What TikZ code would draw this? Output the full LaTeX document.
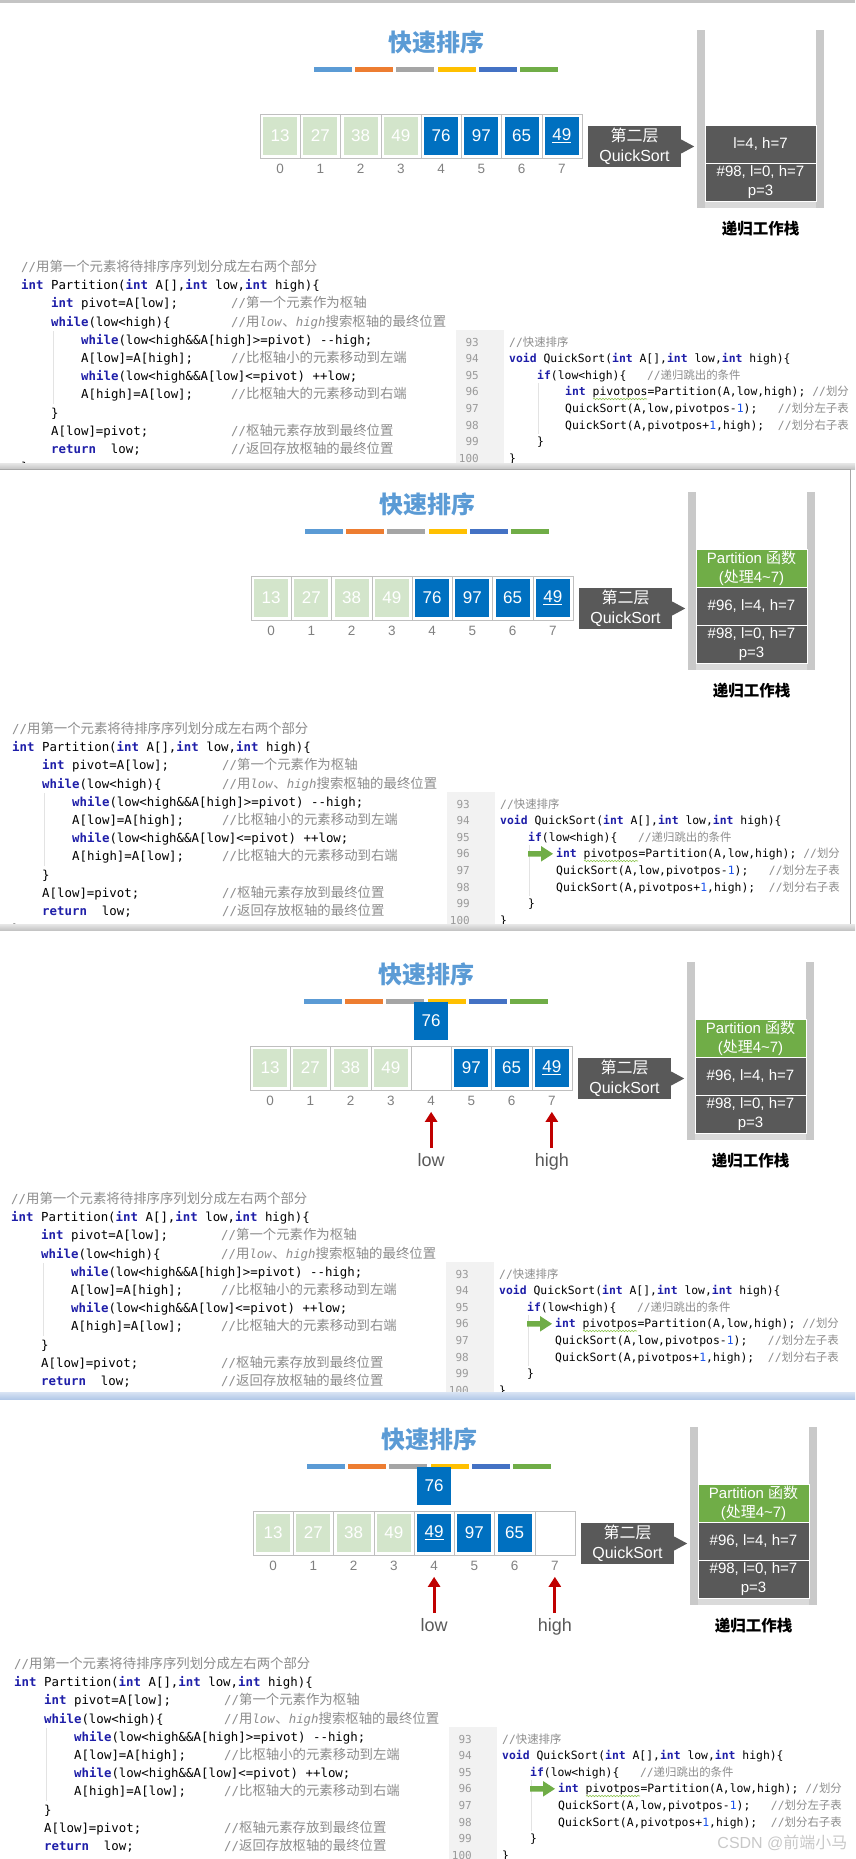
\documentclass[tikz,border=0pt]{standalone}
\usepackage{fontspec}
\setmainfont{Liberation Sans}
\newfontfamily\cjk{Noto Sans CJK SC}
\newfontfamily\cjkcode[Scale=1.08]{Noto Sans CJK SC}
\newfontfamily\mono{DejaVu Sans Mono}
\usetikzlibrary{positioning,arrows.meta,decorations.pathmorphing}

\definecolor{titleblue}{HTML}{5B9BD5}
\definecolor{bar1}{HTML}{5B9BD5}
\definecolor{bar2}{HTML}{ED7D31}
\definecolor{bar3}{HTML}{A5A5A5}
\definecolor{bar4}{HTML}{FFC000}
\definecolor{bar5}{HTML}{4472C4}
\definecolor{bar6}{HTML}{70AD47}
\definecolor{cellgreen}{HTML}{D3E5CB}
\definecolor{cellblue}{HTML}{0070C0}
\definecolor{framegray}{HTML}{BFBFBF}
\definecolor{idxgray}{HTML}{808080}
\definecolor{lblgray}{HTML}{595959}
\definecolor{barsgray}{HTML}{C9C9C9}
\definecolor{stripgray}{HTML}{DADADA}
\definecolor{partgreen}{HTML}{70AD47}
\definecolor{redarrow}{HTML}{C00000}
\definecolor{ptrtext}{HTML}{595959}
\definecolor{kwblue}{HTML}{1E1EA8}
\definecolor{cmtgray}{HTML}{8C8C8C}
\definecolor{numblue}{HTML}{1750EB}
\definecolor{lngray}{HTML}{9A9A9A}
\definecolor{gutter}{HTML}{F2F2F2}
\definecolor{guide}{HTML}{E3E3E3}
\definecolor{wavy}{HTML}{8BC34A}
\definecolor{sepgray}{HTML}{C4C4C4}
\definecolor{bordergray}{HTML}{A8A8A8}
\definecolor{sepblue}{HTML}{B3C9E8}
\definecolor{wmgray}{HTML}{C8C8C8}

\newcommand\kw[1]{\textcolor{kwblue}{\bfseries #1}}
\newcommand\zh[1]{{\cjkcode #1}}
\newcommand\zr[1]{{\cjk #1}}

\tikzset{
  heading/.style={text=titleblue, font=\cjk\bfseries\fontsize{24}{28}\selectfont},
  cellframe/.style={draw=framegray, minimum width=40.25pt, minimum height=44pt, inner sep=0pt},
  greencell/.style={fill=cellgreen, text=white, minimum width=34pt, minimum height=38pt, inner sep=0pt, font=\fontsize{17}{20}\selectfont},
  bluecell/.style={greencell, fill=cellblue},
  idx/.style={text=idxgray, inner sep=1pt, font=\fontsize{13.5}{16}\selectfont},
  lblbox/.style={fill=lblgray, text=white, align=center, minimum width=93pt, minimum height=41pt, inner sep=0pt, font=\fontsize{16}{20}\selectfont},
  stackbox/.style={fill=lblgray, draw=white, line width=1pt, text=white, align=center, minimum width=111pt, minimum height=38pt, inner sep=0pt, font=\fontsize{15}{19}\selectfont},
  partbox/.style={stackbox, fill=partgreen},
  stacklbl/.style={font=\cjk\bfseries\fontsize{15.5}{18}\selectfont},
  ptrlbl/.style={anchor=base, inner sep=2pt, text=ptrtext, font=\fontsize{18}{20}\selectfont},
  ptr/.style={draw=redarrow, line width=3pt, -{Triangle[width=12pt,length=10pt]}, shorten <=3pt, shorten >=5pt},
  codeline/.style={anchor=base west, inner sep=0pt, font=\mono\fontsize{12.4}{15}\selectfont},
  cmt/.style={codeline, text=cmtgray},
  rcode/.style={anchor=base west, inner sep=0pt, font=\mono\fontsize{11.4}{14}\selectfont},
  rcmt/.style={rcode, text=cmtgray},
  lnum/.style={anchor=base east, inner sep=0pt, text=lngray, font=\mono\fontsize{11}{13}\selectfont},
  wavyline/.style={draw=wavy, line width=0.6pt, decorate, decoration={snake, amplitude=0.7pt, segment length=3pt}}
}

\newcommand\quickpanel[2]{%
  \node (#1head) [heading] at (436,42) {快速排序};
  \foreach \c [count=\k from 0] in {bar1,bar2,bar3,bar4,bar5,bar6}
    \fill[\c] ({314+41.2*\k},67) rectangle +(38,5);
  \foreach \i in {0,...,7} {
    \node (#1f\i) [cellframe] at ({280.1+40.25*\i},136) {};
    \node (#1i\i) [idx] at ({280.1+40.25*\i},169) {\i};
  }
  \foreach \i/\v/\s in {#2}
    \node (#1v\i) [\s] at (#1f\i) {\v};
  \node (#1lbl) [lblbox] at (634.5,146.5) {{\cjk 第二层}\\QuickSort};
  \fill[lblgray] ([yshift=7pt]#1lbl.east) -- ++(13,7) -- ([yshift=-7pt]#1lbl.east) -- cycle;
  \fill[barsgray] (697,30) rectangle (705,208);
  \fill[barsgray] (816,30) rectangle (824,208);
  \fill[stripgray] (705,201.5) rectangle (816,208);
  \node (#1stk) [stacklbl] at (760.5,229) {递归工作栈};
}

\newcommand\partstack[1]{%
  \node (#1s1) [partbox] at (760.5,106) {Partition {\cjk 函数}\\({\cjk 处理}4\textasciitilde 7)};
  \node (#1s2) [stackbox] at (760.5,144.25) {\#96, l=4, h=7};
  \node (#1s3) [stackbox] at (760.5,182.5) {\#98, l=0, h=7\\p=3};
}

\newcommand\lowhigh[1]{%
  \node (#1up) [bluecell, above=6pt of #1f4] {76};
  \node (#1low) [ptrlbl] at (441.1,234) {low};
  \node (#1high) [ptrlbl] at (561.85,234) {high};
  \draw[ptr] (#1low) -- (#1i4);
  \draw[ptr] (#1high) -- (#1i7);
}

\newcommand\quickcode[1]{%
  \draw[guide] (53,331) -- (53,404);
  \node (#1c1) [cmt] at (21,271.5) {//\zh{用第一个元素将待排序序列划分成左右两个部分}};
  \node (#1c2) [codeline] at (21,289.7) {\kw{int} Partition(\kw{int} A[],\kw{int} low,\kw{int} high)\{};
  \node (#1c3) [codeline] at (51,307.9) {\kw{int} pivot=A[low];};
  \node (#1m3) [cmt] at (231,307.9) {//\zh{第一个元素作为枢轴}};
  \node (#1c4) [codeline] at (51,326.1) {\kw{while}(low<high)\{};
  \node (#1m4) [cmt] at (231,326.1) {//\zh{用}\textit{low}\zh{、}\textit{high}\zh{搜索枢轴的最终位置}};
  \node (#1c5) [codeline] at (81,344.3) {\kw{while}(low<high\&\&A[high]>=pivot) -{}-high;};
  \node (#1c6) [codeline] at (81,362.5) {A[low]=A[high];};
  \node (#1m6) [cmt] at (231,362.5) {//\zh{比枢轴小的元素移动到左端}};
  \node (#1c7) [codeline] at (81,380.7) {\kw{while}(low<high\&\&A[low]<=pivot) ++low;};
  \node (#1c8) [codeline] at (81,398.9) {A[high]=A[low];};
  \node (#1m8) [cmt] at (231,398.9) {//\zh{比枢轴大的元素移动到右端}};
  \node (#1c9) [codeline] at (51,417.1) {\}};
  \node (#1c10) [codeline] at (51,435.3) {A[low]=pivot;};
  \node (#1m10) [cmt] at (231,435.3) {//\zh{枢轴元素存放到最终位置}};
  \node (#1c11) [codeline] at (51,453.5) {\kw{return}~~low;};
  \node (#1m11) [cmt] at (231,453.5) {//\zh{返回存放枢轴的最终位置}};
  \fill[gutter] (456,330) rectangle (504,480);
  \draw[guide] (538,383) -- (538,434);
  \foreach \n [count=\k from 0] in {93,...,100}
    \node (#1n\n) [lnum] at (479,{346+16.6*\k}) {\n};
  \node (#1r93) [rcmt] at (509,346) {//\zr{快速排序}};
  \node (#1r94) [rcode] at (509,362.6) {\kw{void} QuickSort(\kw{int} A[],\kw{int} low,\kw{int} high)\{};
  \node (#1r95) [rcode] at (537,379.2) {\kw{if}(low<high)\{~~~\textcolor{cmtgray}{//\zr{递归跳出的条件}}};
  \node (#1r96) [rcode] at (565,395.8) {\kw{int} pivotpos=Partition(A,low,high);~\textcolor{cmtgray}{//\zr{划分}}};
  \node (#1r97) [rcode] at (565,412.4) {QuickSort(A,low,pivotpos-\textcolor{numblue}{1});~~~\textcolor{cmtgray}{//\zr{划分左子表}}};
  \node (#1r98) [rcode] at (565,429) {QuickSort(A,pivotpos+\textcolor{numblue}{1},high);~~\textcolor{cmtgray}{//\zr{划分右子表}}};
  \node (#1r99) [rcode] at (537,445.6) {\}};
  \node (#1r100) [rcode] at (509,462.2) {\}};
  \draw[wavyline] (593,399) -- (647,399);
}

\newcommand\greenarrow{%
  \fill[partgreen] (537,389) -- (550,389) -- (550,384) -- (562,391.8) -- (550,399.6) -- (550,394.6) -- (537,394.6) -- cycle;
}

\begin{document}
\begin{tikzpicture}[x=1pt,y=-1pt]
\useasboundingbox (0,0) rectangle (855,1859);

\begin{scope}
  \clip (0,0) rectangle (855,465);
  \quickpanel{p1}{0/13/greencell,1/27/greencell,2/38/greencell,3/49/greencell,4/76/bluecell,5/97/bluecell,6/65/bluecell,7/\underline{49}/bluecell}
  \node (p1s2) [stackbox] at (760.5,144.25) {l=4, h=7};
  \node (p1s3) [stackbox] at (760.5,182.5) {\#98, l=0, h=7\\p=3};
  \quickcode{p1}
  \node (p1c12) [codeline] at (21,471.7) {\}};
\end{scope}

\begin{scope}
  \clip (0,470) rectangle (849.5,924);
  \begin{scope}[shift={(-9,462)}]
    \quickpanel{p2}{0/13/greencell,1/27/greencell,2/38/greencell,3/49/greencell,4/76/bluecell,5/97/bluecell,6/65/bluecell,7/\underline{49}/bluecell}
    \partstack{p2}
    \quickcode{p2}
    \node (p2c12) [codeline] at (21,471.7) {\}};
    \greenarrow
  \end{scope}
\end{scope}

\begin{scope}
  \clip (0,930) rectangle (855,1392);
  \begin{scope}[shift={(-10,932)}]
    \quickpanel{p3}{0/13/greencell,1/27/greencell,2/38/greencell,3/49/greencell,5/97/bluecell,6/65/bluecell,7/\underline{49}/bluecell}
    \partstack{p3}
    \lowhigh{p3}
    \quickcode{p3}
    \greenarrow
  \end{scope}
\end{scope}

\begin{scope}
  \clip (0,1399) rectangle (855,1859);
  \begin{scope}[shift={(-7,1397)}]
    \quickpanel{p4}{0/13/greencell,1/27/greencell,2/38/greencell,3/49/greencell,4/\underline{49}/bluecell,5/97/bluecell,6/65/bluecell}
    \partstack{p4}
    \lowhigh{p4}
    \quickcode{p4}
    \greenarrow
  \end{scope}
\end{scope}

\fill[sepgray] (0,0) rectangle (855,3);
\fill[top color=sepgray!40, bottom color=sepgray] (0,463) rectangle (855,469);
\draw[bordergray] (0,469.5) -- (850,469.5) -- (850,927);
\fill[top color=sepgray!40, bottom color=sepgray] (0,924) rectangle (855,930);
\fill[top color=sepblue!50, bottom color=sepblue] (0,1392) rectangle (855,1399);
\node (wm) [anchor=east, text=wmgray, font=\fontsize{16}{18}\selectfont] at (851,1843) {CSDN @{\cjk 前端小马}};
\end{tikzpicture}
\end{document}
